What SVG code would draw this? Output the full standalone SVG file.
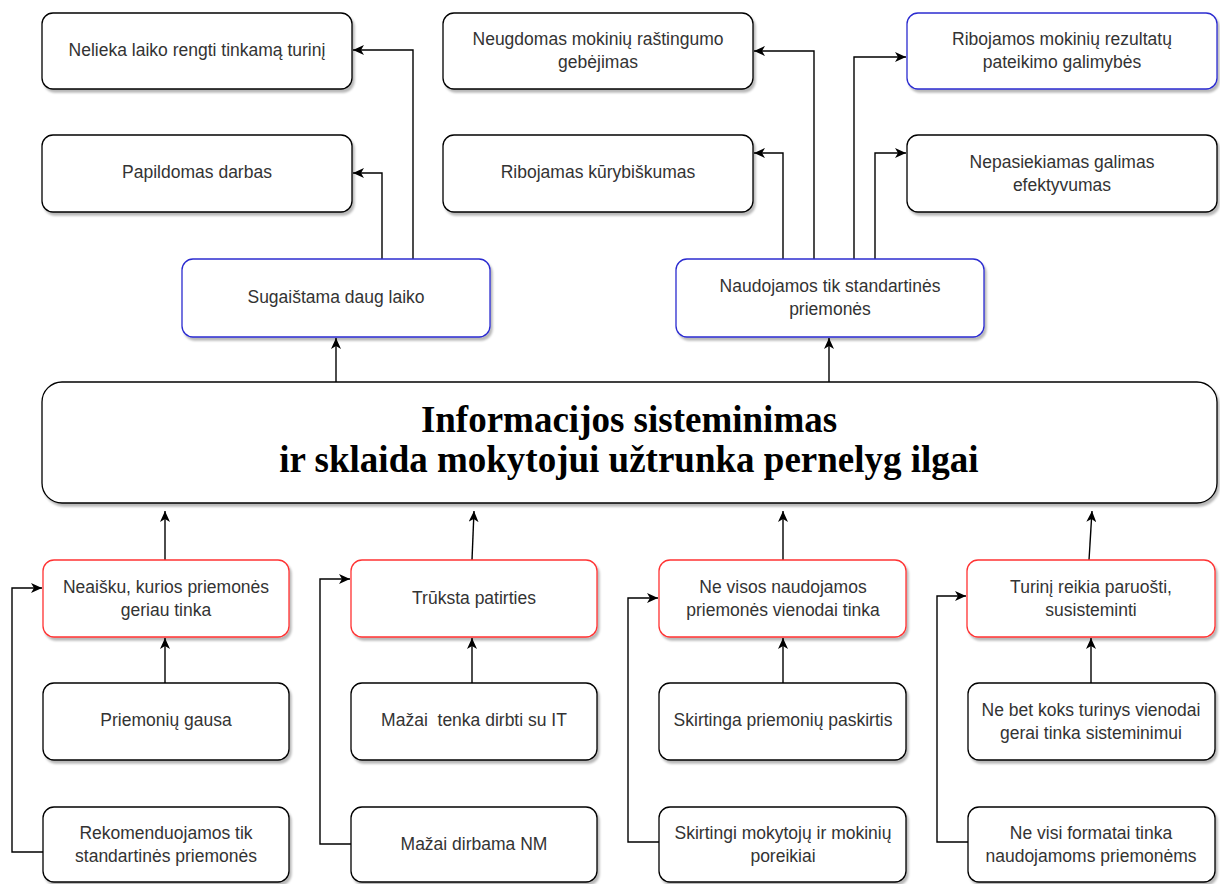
<svg xmlns="http://www.w3.org/2000/svg" width="1220" height="884" viewBox="0 0 1220 884">
  <defs>
    <filter id="shadow" x="-5%" y="-5%" width="115%" height="125%">
      <feDropShadow dx="2" dy="3" stdDeviation="1.2" flood-color="#000" flood-opacity="0.28"/>
    </filter>
    <marker id="arrow" markerUnits="userSpaceOnUse" markerWidth="12" markerHeight="10" viewBox="0 0 12 10" refX="11" refY="5" orient="auto">
      <path d="M0,0 L11,5 L0,10 L3,5 z" fill="#000"/>
    </marker>
    <style>
      .box { fill: #fff; stroke: #000; stroke-width: 1.3; filter: url(#shadow); }
      .blue { stroke: #2b2bd0; }
      .red { stroke: #ff3333; }
      .lbl { font-family: "Liberation Sans", Arial, sans-serif; font-size: 17.5px; fill: #333; text-anchor: middle; dominant-baseline: central; }
      .title { font-family: "Liberation Serif", "Times New Roman", serif; font-size: 37px; font-weight: bold; fill: #000; text-anchor: middle; dominant-baseline: central; }
      .edge { fill: none; stroke: #000; stroke-width: 1.4; marker-end: url(#arrow); }
    </style>
  </defs>

  <!-- connectors -->
  <g id="connectors">
    <path class="edge" d="M382,259 V173 H353"/>
    <path class="edge" d="M413,259 V50 H353"/>
    <path class="edge" d="M783,259 V153 H754"/>
    <path class="edge" d="M814,259 V51 H754"/>
    <path class="edge" d="M854,259 V57 H906"/>
    <path class="edge" d="M875,259 V153 H906"/>
    <path class="edge" d="M336,382 V338"/>
    <path class="edge" d="M829,382 V338"/>
    <path class="edge" d="M165,560 V511"/>
    <path class="edge" d="M472,560 L474,511"/>
    <path class="edge" d="M783,560 V511"/>
    <path class="edge" d="M1089,560 L1092,511"/>
    <path class="edge" d="M165,683 V638"/>
    <path class="edge" d="M472,683 V638"/>
    <path class="edge" d="M783,683 V638"/>
    <path class="edge" d="M1091,683 V638"/>
    <path class="edge" d="M43,852 H12 V588 H42"/>
    <path class="edge" d="M351,844 H320 V579 H350"/>
    <path class="edge" d="M659,842 H628 V598 H658"/>
    <path class="edge" d="M968,842 H937 V596 H966"/>
  </g>

  <!-- top consequences -->
  <g id="n-nelieka">
    <rect class="box" x="42" y="13" width="310" height="76" rx="11"/>
    <text class="lbl" x="197" y="50">Nelieka laiko rengti tinkamą turinį</text>
  </g>
  <g id="n-papildomas">
    <rect class="box" x="42" y="135" width="310" height="77" rx="11"/>
    <text class="lbl" x="197" y="172">Papildomas darbas</text>
  </g>
  <g id="n-neugdomas">
    <rect class="box" x="443" y="13" width="310" height="76" rx="11"/>
    <text class="lbl" x="598" y="39">Neugdomas mokinių raštingumo</text>
    <text class="lbl" x="598" y="62">gebėjimas</text>
  </g>
  <g id="n-kurybiskumas">
    <rect class="box" x="443" y="135" width="310" height="77" rx="11"/>
    <text class="lbl" x="598" y="172">Ribojamas kūrybiškumas</text>
  </g>
  <g id="n-rezultatai">
    <rect class="box blue" x="907" y="13" width="310" height="76" rx="11"/>
    <text class="lbl" x="1062" y="39">Ribojamos mokinių rezultatų</text>
    <text class="lbl" x="1062" y="62">pateikimo galimybės</text>
  </g>
  <g id="n-efektyvumas">
    <rect class="box" x="907" y="135" width="310" height="77" rx="11"/>
    <text class="lbl" x="1062" y="162">Nepasiekiamas galimas</text>
    <text class="lbl" x="1062" y="185">efektyvumas</text>
  </g>

  <!-- direct effects -->
  <g id="n-sugaistama">
    <rect class="box blue" x="182" y="259" width="308" height="78" rx="11"/>
    <text class="lbl" x="336" y="297">Sugaištama daug laiko</text>
  </g>
  <g id="n-naudojamos">
    <rect class="box blue" x="676" y="259" width="308" height="78" rx="11"/>
    <text class="lbl" x="830" y="286">Naudojamos tik standartinės</text>
    <text class="lbl" x="830" y="309">priemonės</text>
  </g>

  <!-- central problem -->
  <g id="n-main">
    <rect class="box" x="42" y="382" width="1175" height="121" rx="20"/>
    <text class="title" x="629" y="419">Informacijos sisteminimas</text>
    <text class="title" x="629" y="459">ir sklaida mokytojui užtrunka pernelyg ilgai</text>
  </g>

  <!-- causes -->
  <g id="n-neaisku">
    <rect class="box red" x="43" y="560" width="246" height="77" rx="11"/>
    <text class="lbl" x="166" y="587">Neaišku, kurios priemonės</text>
    <text class="lbl" x="166" y="610">geriau tinka</text>
  </g>
  <g id="n-truksta">
    <rect class="box red" x="351" y="560" width="246" height="77" rx="11"/>
    <text class="lbl" x="474" y="598">Trūksta patirties</text>
  </g>
  <g id="n-nevisos">
    <rect class="box red" x="659" y="560" width="247" height="77" rx="11"/>
    <text class="lbl" x="783" y="587">Ne visos naudojamos</text>
    <text class="lbl" x="783" y="610">priemonės vienodai tinka</text>
  </g>
  <g id="n-turini">
    <rect class="box red" x="967" y="560" width="248" height="77" rx="11"/>
    <text class="lbl" x="1091" y="587">Turinį reikia paruošti,</text>
    <text class="lbl" x="1091" y="610">susisteminti</text>
  </g>

  <!-- root causes -->
  <g id="n-gausa">
    <rect class="box" x="43" y="683" width="246" height="77" rx="11"/>
    <text class="lbl" x="166" y="720">Priemonių gausa</text>
  </g>
  <g id="n-rekomenduojamos">
    <rect class="box" x="43" y="807" width="246" height="75" rx="11"/>
    <text class="lbl" x="166" y="833">Rekomenduojamos tik</text>
    <text class="lbl" x="166" y="856">standartinės priemonės</text>
  </g>
  <g id="n-it">
    <rect class="box" x="351" y="683" width="246" height="77" rx="11"/>
    <text class="lbl" x="474" y="720" xml:space="preserve">Mažai  tenka dirbti su IT</text>
  </g>
  <g id="n-nm">
    <rect class="box" x="351" y="807" width="246" height="75" rx="11"/>
    <text class="lbl" x="474" y="844">Mažai dirbama NM</text>
  </g>
  <g id="n-paskirtis">
    <rect class="box" x="659" y="683" width="247" height="77" rx="11"/>
    <text class="lbl" x="783" y="720">Skirtinga priemonių paskirtis</text>
  </g>
  <g id="n-poreikiai">
    <rect class="box" x="659" y="807" width="247" height="75" rx="11"/>
    <text class="lbl" x="783" y="833">Skirtingi mokytojų ir mokinių</text>
    <text class="lbl" x="783" y="856">poreikiai</text>
  </g>
  <g id="n-turinys">
    <rect class="box" x="968" y="683" width="247" height="77" rx="11"/>
    <text class="lbl" x="1091" y="710">Ne bet koks turinys vienodai</text>
    <text class="lbl" x="1091" y="733">gerai tinka sisteminimui</text>
  </g>
  <g id="n-formatai">
    <rect class="box" x="968" y="807" width="247" height="75" rx="11"/>
    <text class="lbl" x="1091" y="833">Ne visi formatai tinka</text>
    <text class="lbl" x="1091" y="856">naudojamoms priemonėms</text>
  </g>
</svg>
